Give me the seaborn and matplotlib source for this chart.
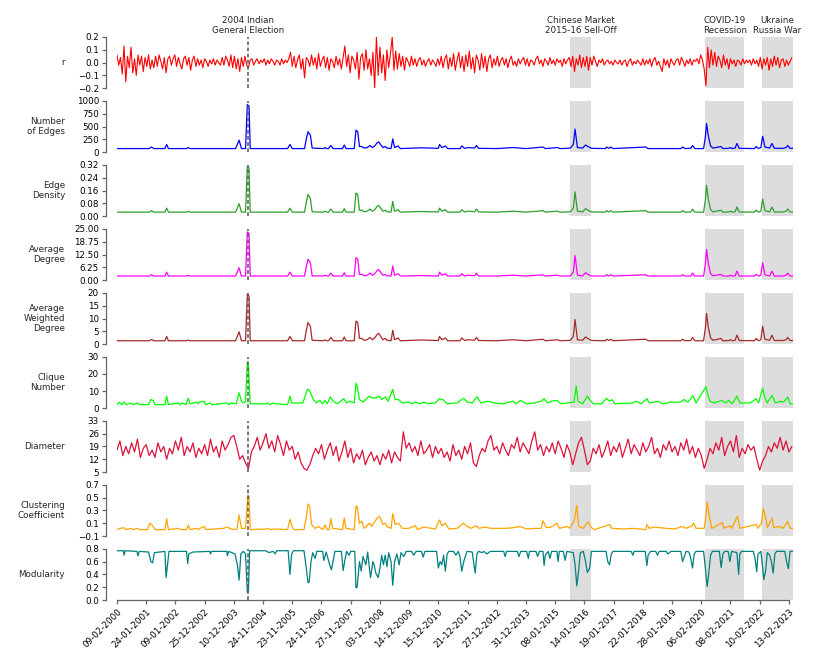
import numpy as np
import pandas as pd
import matplotlib.pyplot as plt
import matplotlib.transforms as mtransforms
import seaborn as sns


# x axis = observation index (one tick every 50 observations)
tick_dates = ['09-02-2000', '24-01-2001', '09-01-2002', '25-12-2002', '10-12-2003',
              '24-11-2004', '23-11-2005', '24-11-2006', '27-11-2007', '03-12-2008',
              '14-12-2009', '15-12-2010', '21-12-2011', '27-12-2012', '31-12-2013',
              '08-01-2015', '14-01-2016', '19-01-2017', '22-01-2018', '28-01-2019',
              '06-02-2020', '08-02-2021', '10-02-2022', '13-02-2023']
tick_pos = np.arange(0, 1151, 50)
n_obs = 1157

# events
election_idx = 224
events = ['Chinese Market\n2015-16 Sell-Off', 'COVID-19\nRecession', 'Ukraine\nRussia War']
event_start = [776, 1007, 1104]
event_end = [812, 1073, 1160]

# r (every 3rd observation)
r_idx = np.arange(0, 1156, 3)
r = [0.06, -0.02, 0.04, -0.09, 0.13, -0.15, 0.05, -0.04, 0.12, -0.08,
     0.03, -0.10, 0.06, -0.02, 0.05, -0.07, 0.04, -0.03, 0.06, -0.05,
     0.02, -0.04, 0.05, -0.03, 0.06, 0.01, -0.05, 0.04, -0.08, 0.03,
     0.05, -0.02, 0.03, 0.06, -0.03, 0.04, -0.01, -0.05, 0.03, 0.05,
     -0.02, 0.04, -0.06, 0.02, 0.05, -0.03, 0.03, -0.02, 0.02, -0.04,
     0.03, 0.01, -0.03, 0.02, -0.01, 0.03, -0.02, 0.02, 0.00, -0.02,
     0.04, -0.02, 0.05, 0.02, -0.03, 0.06, -0.04, 0.05, -0.05, 0.03,
     -0.07, 0.04, -0.03, 0.05, -0.02, -0.04, 0.02, 0.03, -0.02, 0.01,
     0.03, -0.01, 0.02, 0.00, 0.03, -0.02, 0.02, -0.01, 0.03, 0.01,
     -0.02, 0.02, 0.01, -0.02, 0.03, -0.01, 0.02, 0.00, 0.03, 0.08,
     -0.03, 0.05, -0.04, 0.02, 0.06, -0.05, 0.03, -0.12, 0.04, 0.02,
     -0.03, 0.06, -0.02, 0.04, -0.05, 0.07, -0.03, 0.02, 0.05, -0.04,
     0.04, -0.06, 0.03, 0.01, -0.04, 0.05, -0.02, 0.03, -0.05, 0.04,
     0.13, -0.03, 0.06, -0.08, 0.05, 0.02, -0.05, 0.08, -0.13, 0.04,
     0.07, -0.06, 0.10, -0.05, 0.03, -0.10, 0.08, -0.20, 0.20, -0.10,
     0.12, -0.08, 0.06, -0.14, 0.10, -0.04, 0.07, 0.20, -0.06, 0.09,
     -0.05, 0.07, -0.03, 0.05, -0.06, 0.04, 0.01, -0.03, 0.05, -0.02,
     0.03, -0.03, 0.02, 0.04, -0.02, 0.02, -0.03, 0.01, 0.03, -0.02,
     0.02, 0.00, -0.03, 0.03, -0.02, 0.05, -0.04, 0.03, 0.06, -0.05,
     0.04, -0.03, 0.07, -0.06, 0.02, 0.08, -0.04, 0.05, -0.07, 0.06,
     -0.03, 0.09, -0.05, 0.04, -0.08, 0.06, 0.02, -0.06, 0.07, -0.04,
     0.05, -0.07, 0.03, 0.06, -0.04, 0.03, -0.02, 0.05, -0.03, 0.02,
     0.04, -0.02, 0.03, -0.04, 0.02, 0.05, -0.02, 0.01, -0.03, 0.03,
     -0.01, 0.02, 0.04, -0.02, 0.03, -0.03, 0.02, 0.01, -0.02, 0.03,
     0.05, -0.01, 0.02, -0.03, 0.03, 0.01, -0.02, 0.04, -0.01, 0.02,
     -0.02, 0.03, 0.00, 0.02, -0.03, 0.03, -0.01, 0.02, 0.04, -0.03,
     0.05, -0.07, 0.03, -0.02, 0.06, -0.04, 0.04, -0.03, 0.05, -0.06,
     0.04, -0.02, 0.05, 0.01, -0.03, 0.02, 0.00, 0.03, -0.02, 0.01,
     0.02, -0.01, 0.01, -0.02, 0.02, 0.00, -0.01, 0.02, -0.02, 0.01,
     0.02, -0.03, 0.01, 0.03, -0.02, 0.01, -0.01, 0.02, 0.00, -0.02,
     0.03, -0.02, 0.02, -0.01, 0.03, -0.03, 0.02, 0.04, -0.02, 0.01,
     -0.03, -0.07, 0.03, -0.02, 0.02, -0.04, 0.03, 0.00, -0.02, 0.02,
     0.03, -0.02, 0.04, 0.01, -0.03, 0.02, -0.01, 0.03, -0.02, 0.02,
     0.01, 0.03, -0.01, 0.06, 0.02, -0.05, -0.18, 0.12, -0.04, 0.10,
     -0.02, 0.08, -0.03, 0.05, 0.02, -0.04, 0.06, -0.02, 0.03, -0.05,
     0.03, -0.01, 0.02, -0.03, 0.02, 0.01, -0.02, 0.03, -0.01, 0.02,
     0.00, 0.02, -0.02, 0.03, -0.01, 0.02, -0.03, 0.04, -0.05, 0.03,
     -0.02, 0.04, -0.06, 0.03, -0.03, 0.05, -0.02, 0.04, -0.04, 0.02,
     0.03, -0.03, 0.02, -0.02, 0.01, 0.04]

# diameter (every 5th observation)
d_idx = np.arange(0, 1156, 5)
diameter = [17, 22, 14, 19, 15, 21, 16, 23, 13, 18,
            20, 14, 17, 13, 21, 16, 19, 12, 18, 15,
            22, 17, 24, 14, 19, 16, 21, 13, 18, 15,
            20, 14, 23, 16, 19, 13, 22, 17, 20, 24,
            25, 19, 12, 14, 10, 7, 16, 19, 24, 17,
            21, 26, 18, 22, 16, 25, 20, 14, 22, 17,
            19, 12, 16, 10, 7, 6, 9, 14, 18, 15,
            20, 12, 17, 21, 14, 19, 11, 16, 22, 13,
            18, 10, 15, 12, 17, 9, 13, 16, 11, 14,
            9, 15, 12, 17, 10, 16, 13, 11, 27, 18,
            21, 16, 19, 14, 22, 15, 17, 20, 13, 19,
            15, 18, 13, 16, 11, 20, 14, 17, 12, 19,
            15, 21, 10, 8, 14, 18, 16, 22, 25, 17,
            19, 15, 21, 17, 14, 20, 18, 24, 16, 21,
            18, 15, 22, 27, 17, 20, 14, 19, 16, 21,
            15, 22, 18, 13, 20, 16, 9, 15, 21, 24,
            17, 9, 11, 18, 15, 20, 13, 17, 22, 14,
            19, 16, 21, 13, 18, 23, 15, 20, 17, 14,
            21, 16, 19, 24, 15, 18, 13, 20, 17, 22,
            16, 19, 14, 21, 17, 23, 15, 19, 13, 18,
            14, 7, 12, 18, 15, 21, 17, 24, 14, 19,
            22, 16, 25, 13, 18, 15, 20, 17, 19, 12,
            6, 11, 14, 19, 16, 21, 18, 24, 17, 22,
            16, 19]

# edge based measures, read at the turning points
edge_idx = [0, 55, 59, 63, 82, 85, 88, 119, 122, 125,
            203, 209, 213, 220, 223, 226, 228, 292, 296, 300,
            321, 324, 327, 331, 334, 353, 356, 359, 362, 366,
            370, 386, 389, 392, 406, 409, 412, 415, 419, 423,
            428, 433, 437, 441, 445, 448, 451, 455, 459, 462,
            469, 472, 475, 481, 485, 520, 550, 552, 556, 562,
            566, 587, 590, 595, 601, 612, 615, 619, 650, 678,
            700, 729, 733, 754, 758, 770, 776, 781, 784, 788,
            797, 802, 806, 812, 836, 838, 842, 845, 849, 905,
            909, 965, 968, 972, 982, 985, 989, 1004, 1007, 1009,
            1012, 1016, 1020, 1034, 1037, 1047, 1050, 1053, 1058, 1061,
            1065, 1091, 1094, 1098, 1102, 1105, 1109, 1117, 1121, 1125,
            1140, 1145, 1148, 1152, 1157]
edges = [70, 70, 100, 70, 70, 150, 70, 70, 90, 70,
         70, 235, 70, 70, 930, 900, 70, 70, 150, 70,
         70, 260, 400, 330, 80, 70, 90, 70, 70, 130,
         70, 70, 140, 70, 70, 430, 400, 110, 110, 80,
         90, 130, 90, 120, 180, 200, 150, 90, 110, 80,
         70, 260, 90, 120, 70, 85, 75, 150, 90, 120,
         70, 70, 120, 75, 90, 80, 130, 75, 70, 90,
         70, 100, 70, 90, 70, 75, 80, 150, 450, 90,
         80, 140, 110, 75, 70, 100, 75, 100, 70, 100,
         70, 70, 100, 70, 75, 130, 70, 70, 300, 560,
         320, 120, 80, 110, 70, 75, 90, 70, 80, 170,
         75, 70, 110, 70, 90, 310, 100, 80, 170, 75,
         75, 90, 130, 75, 75]
density = [.025, .025, .034, .025, .025, .05, .025, .025, .031, .025,
           .025, .078, .025, .025, .31, .30, .025, .025, .05, .025,
           .025, .087, .135, .11, .027, .025, .031, .025, .025, .044,
           .025, .025, .047, .025, .025, .145, .135, .037, .037, .027,
           .031, .044, .031, .04, .06, .068, .05, .031, .037, .027,
           .025, .092, .031, .04, .025, .029, .026, .05, .031, .04,
           .025, .025, .04, .026, .031, .027, .044, .026, .025, .031,
           .025, .034, .025, .031, .025, .026, .027, .05, .152, .031,
           .027, .047, .037, .026, .025, .034, .026, .034, .025, .034,
           .025, .025, .034, .025, .026, .044, .025, .025, .10, .193,
           .107, .04, .027, .037, .025, .026, .031, .025, .027, .057,
           .026, .025, .037, .025, .031, .107, .034, .027, .057, .026,
           .026, .031, .044, .026, .026]
avg_degree = [2.0, 2.0, 2.6, 2.0, 2.0, 3.9, 2.0, 2.0, 2.4, 2.0,
              2.0, 6.0, 2.0, 2.0, 23.5, 22.8, 2.0, 2.0, 3.9, 2.0,
              2.0, 6.6, 10.2, 8.4, 2.1, 2.0, 2.4, 2.0, 2.0, 3.4,
              2.0, 2.0, 3.6, 2.0, 2.0, 11.0, 10.2, 2.8, 2.8, 2.1,
              2.4, 3.4, 2.4, 3.1, 4.6, 5.2, 3.9, 2.4, 2.8, 2.1,
              2.0, 6.9, 2.4, 3.1, 2.0, 2.2, 2.0, 3.9, 2.4, 3.1,
              2.0, 2.0, 3.1, 2.0, 2.4, 2.1, 3.4, 2.0, 2.0, 2.4,
              2.0, 2.6, 2.0, 2.4, 2.0, 2.0, 2.1, 3.9, 12.0, 2.4,
              2.1, 3.6, 2.8, 2.0, 2.0, 2.6, 2.0, 2.6, 2.0, 2.6,
              2.0, 2.0, 2.6, 2.0, 2.0, 3.4, 2.0, 2.0, 7.8, 15.0,
              8.2, 3.1, 2.1, 2.8, 2.0, 2.0, 2.4, 2.0, 2.1, 4.4,
              2.0, 2.0, 2.8, 2.0, 2.4, 8.5, 2.6, 2.1, 4.4, 2.0,
              2.0, 2.4, 3.4, 2.0, 2.0]
avg_wdegree = [1.3, 1.3, 1.8, 1.3, 1.3, 3.0, 1.3, 1.3, 1.6, 1.3,
               1.3, 4.8, 1.3, 1.3, 19.5, 18.8, 1.3, 1.3, 3.0, 1.3,
               1.3, 5.4, 8.4, 6.9, 1.5, 1.3, 1.6, 1.3, 1.3, 2.6,
               1.3, 1.3, 2.8, 1.3, 1.3, 9.0, 8.4, 2.2, 2.2, 1.5,
               1.7, 2.6, 1.7, 2.4, 3.7, 4.2, 3.1, 1.7, 2.2, 1.5,
               1.3, 5.4, 1.7, 2.4, 1.3, 1.6, 1.4, 3.0, 1.7, 2.4,
               1.3, 1.3, 2.4, 1.4, 1.7, 1.5, 2.6, 1.4, 1.3, 1.7,
               1.3, 1.9, 1.3, 1.7, 1.3, 1.4, 1.5, 3.0, 9.6, 1.7,
               1.5, 2.8, 2.2, 1.4, 1.3, 1.9, 1.4, 1.9, 1.3, 1.9,
               1.3, 1.3, 1.9, 1.3, 1.4, 2.6, 1.3, 1.3, 6.2, 12.0,
               6.6, 2.4, 1.5, 2.2, 1.3, 1.4, 1.7, 1.3, 1.5, 3.5,
               1.4, 1.3, 2.2, 1.3, 1.7, 7.0, 1.9, 1.5, 3.5, 1.4,
               1.4, 1.7, 2.6, 1.4, 1.4]

# (observation, value) turning points
clique_pts = [(0, 2), (4, 3.4), (8, 2), (12, 3.5), (16, 2), (23, 3), (27, 2), (35, 3), (39, 2), (54, 2),
              (58, 5), (62, 4.5), (65, 2), (82, 2), (85, 7), (88, 2), (105, 3), (108, 2), (111, 3), (118, 2),
              (122, 5.8), (125, 2.5), (136, 3.5), (139, 2.5), (141, 3.5), (149, 4), (152, 2), (159, 3), (162, 2), (188, 3),
              (191, 2), (196, 3), (204, 2.5), (209, 9), (213, 4), (217, 3), (220, 4), (223, 27), (225, 24), (228, 2.5),
              (255, 2.5), (258, 3), (262, 2), (267, 3), (271, 2.5), (292, 2), (296, 7), (299, 3), (318, 3), (326, 11),
              (329, 10.5), (336, 5), (341, 3), (347, 4.5), (352, 2.5), (356, 4.5), (360, 2.5), (365, 6.5), (370, 4), (377, 2.5),
              (388, 5.5), (393, 3), (398, 4), (406, 3), (409, 14.5), (411, 13), (415, 5), (421, 3.5), (432, 7), (436, 6),
              (444, 6), (449, 7), (453, 5), (459, 6.5), (464, 4), (472, 11), (476, 5), (482, 5), (488, 3), (499, 3.5),
              (505, 2.5), (511, 3.5), (518, 2.5), (525, 3.5), (533, 2.5), (545, 3), (552, 5.5), (559, 4.7), (565, 2.5), (582, 3),
              (593, 5.7), (600, 3.5), (608, 3), (616, 6.7), (623, 3), (635, 4), (646, 3), (660, 2.5), (678, 4), (683, 2.5),
              (691, 4.5), (701, 2.5), (715, 3), (726, 4), (731, 5.5), (737, 3), (743, 4), (753, 4.5), (760, 2.5), (771, 3),
              (782, 3.5), (786, 13), (789, 4), (797, 2.5), (805, 7), (809, 5), (815, 2.5), (829, 2.5), (838, 5.7), (843, 4),
              (847, 5), (852, 2.5), (883, 3), (888, 4), (897, 2.5), (907, 5.5), (911, 3), (926, 4), (934, 2.5), (948, 3.5),
              (964, 3.5), (970, 5), (977, 3.5), (986, 7.3), (991, 3), (1008, 12.5), (1011, 8), (1015, 4), (1022, 3), (1035, 4.5),
              (1042, 3), (1047, 4.5), (1053, 2.5), (1061, 7), (1066, 3), (1084, 3), (1094, 5.5), (1098, 3), (1105, 11.6), (1109, 6),
              (1113, 3), (1121, 7.5), (1127, 3), (1135, 4), (1141, 3.5), (1148, 6.5), (1152, 2.5), (1157, 2.5)]

clustering_pts = [(0, 0.0), (5, 0.02), (12, 0.03), (16, 0.0), (23, 0.02), (27, 0.0), (35, 0.02), (39, 0.0), (52, 0.0), (56, 0.1),
                  (61, 0.06), (65, 0.0), (82, 0.0), (85, 0.17), (88, 0.0), (105, 0.02), (109, 0.0), (119, 0.0), (122, 0.07), (125, 0.0),
                  (136, 0.02), (139, 0.0), (142, 0.02), (149, 0.05), (152, 0.0), (182, 0.02), (189, 0.04), (195, 0.01), (205, 0.0), (209, 0.23),
                  (213, 0.02), (220, 0.02), (224, 0.53), (226, 0.52), (228, 0.0), (255, 0.01), (258, 0.02), (262, 0.0), (270, 0.01), (292, 0.0),
                  (296, 0.16), (300, 0.04), (303, 0.0), (320, 0.0), (324, 0.2), (327, 0.4), (330, 0.35), (333, 0.08), (339, 0.02), (345, 0.05),
                  (352, 0.0), (356, 0.07), (360, 0.0), (363, 0.0), (366, 0.17), (369, 0.02), (386, 0.0), (389, 0.18), (392, 0.02), (406, 0.0),
                  (409, 0.37), (411, 0.36), (415, 0.1), (419, 0.13), (423, 0.02), (432, 0.1), (436, 0.05), (443, 0.15), (447, 0.2), (450, 0.2),
                  (455, 0.08), (459, 0.1), (463, 0.04), (469, 0.02), (472, 0.25), (476, 0.08), (482, 0.1), (488, 0.02), (499, 0.02), (511, 0.06),
                  (514, 0.0), (525, 0.04), (545, 0.01), (552, 0.15), (556, 0.06), (562, 0.1), (568, 0.01), (582, 0.02), (593, 0.1), (599, 0.05),
                  (606, 0.02), (614, 0.06), (620, 0.02), (629, 0.04), (641, 0.02), (664, 0.02), (678, 0.03), (690, 0.05), (701, 0.01), (715, 0.02),
                  (726, 0.02), (729, 0.14), (735, 0.03), (743, 0.04), (753, 0.1), (757, 0.02), (771, 0.05), (775, 0.02), (783, 0.15), (787, 0.38),
                  (790, 0.05), (798, 0.02), (804, 0.1), (807, 0.12), (812, 0.03), (817, 0.0), (837, 0.06), (843, 0.08), (847, 0.02), (868, 0.01),
                  (882, 0.02), (905, 0.0), (907, 0.08), (911, 0.02), (920, 0.04), (940, 0.02), (954, 0.01), (968, 0.05), (974, 0.02), (984, 0.06),
                  (987, 0.1), (991, 0.02), (1005, 0.02), (1007, 0.15), (1010, 0.43), (1014, 0.2), (1018, 0.02), (1036, 0.11), (1039, 0.02), (1049, 0.06),
                  (1052, 0.02), (1062, 0.21), (1066, 0.02), (1094, 0.08), (1097, 0.02), (1103, 0.1), (1106, 0.33), (1110, 0.2), (1113, 0.03), (1121, 0.18),
                  (1124, 0.03), (1134, 0.05), (1140, 0.02), (1148, 0.13), (1152, 0.02), (1157, 0.02)]

modularity_pts = [(0, 0.77), (11, 0.77), (12, 0.7), (14, 0.77), (34, 0.76), (36, 0.69), (38, 0.76), (54, 0.75), (58, 0.6), (61, 0.58),
                  (64, 0.74), (82, 0.76), (84, 0.35), (87, 0.6), (89, 0.76), (119, 0.76), (121, 0.57), (123, 0.72), (130, 0.75), (159, 0.76),
                  (160, 0.72), (162, 0.76), (188, 0.76), (189, 0.69), (191, 0.76), (202, 0.72), (206, 0.55), (209, 0.31), (212, 0.72), (216, 0.76),
                  (220, 0.72), (223, 0.12), (225, 0.15), (227, 0.77), (255, 0.77), (260, 0.74), (267, 0.76), (271, 0.72), (273, 0.77), (293, 0.77),
                  (296, 0.4), (299, 0.72), (302, 0.77), (320, 0.77), (324, 0.5), (327, 0.27), (329, 0.28), (332, 0.6), (335, 0.74), (339, 0.65),
                  (342, 0.76), (352, 0.76), (354, 0.62), (358, 0.75), (364, 0.55), (367, 0.47), (370, 0.62), (373, 0.76), (384, 0.76), (387, 0.46),
                  (390, 0.62), (393, 0.76), (397, 0.7), (400, 0.76), (407, 0.76), (409, 0.19), (411, 0.2), (415, 0.6), (418, 0.45), (421, 0.68),
                  (426, 0.55), (429, 0.75), (432, 0.5), (434, 0.35), (438, 0.6), (440, 0.55), (443, 0.42), (447, 0.35), (450, 0.5), (453, 0.7),
                  (456, 0.55), (459, 0.7), (462, 0.52), (465, 0.74), (469, 0.6), (472, 0.23), (475, 0.6), (479, 0.72), (483, 0.55), (486, 0.74),
                  (491, 0.68), (495, 0.76), (504, 0.76), (508, 0.7), (512, 0.76), (521, 0.76), (524, 0.67), (527, 0.76), (547, 0.76), (550, 0.5),
                  (553, 0.6), (556, 0.55), (559, 0.7), (562, 0.45), (565, 0.72), (568, 0.76), (576, 0.76), (580, 0.7), (584, 0.76), (587, 0.68),
                  (590, 0.45), (594, 0.62), (599, 0.76), (608, 0.75), (610, 0.62), (613, 0.42), (616, 0.72), (619, 0.76), (625, 0.74), (628, 0.76),
                  (633, 0.72), (639, 0.76), (662, 0.76), (664, 0.68), (667, 0.76), (685, 0.76), (688, 0.68), (691, 0.76), (701, 0.76), (704, 0.65),
                  (706, 0.76), (717, 0.76), (720, 0.68), (723, 0.76), (729, 0.76), (731, 0.54), (733, 0.7), (738, 0.76), (741, 0.65), (744, 0.76),
                  (753, 0.76), (755, 0.6), (757, 0.76), (764, 0.76), (767, 0.62), (770, 0.76), (781, 0.74), (784, 0.55), (787, 0.22), (790, 0.45),
                  (793, 0.74), (798, 0.76), (802, 0.6), (805, 0.43), (809, 0.5), (812, 0.76), (837, 0.76), (840, 0.6), (843, 0.55), (846, 0.72),
                  (849, 0.76), (880, 0.76), (883, 0.7), (885, 0.76), (904, 0.76), (907, 0.54), (909, 0.7), (913, 0.76), (922, 0.76), (925, 0.7),
                  (928, 0.76), (940, 0.76), (943, 0.72), (948, 0.76), (965, 0.76), (968, 0.6), (971, 0.68), (974, 0.76), (979, 0.75), (982, 0.65),
                  (985, 0.5), (988, 0.72), (991, 0.76), (1004, 0.76), (1007, 0.5), (1010, 0.21), (1012, 0.35), (1016, 0.7), (1019, 0.76), (1031, 0.76),
                  (1034, 0.51), (1037, 0.72), (1040, 0.76), (1046, 0.76), (1049, 0.6), (1052, 0.76), (1061, 0.74), (1064, 0.4), (1066, 0.72), (1069, 0.76),
                  (1089, 0.76), (1092, 0.65), (1095, 0.44), (1097, 0.72), (1102, 0.76), (1104, 0.6), (1107, 0.32), (1110, 0.45), (1113, 0.74), (1117, 0.7),
                  (1120, 0.6), (1123, 0.42), (1126, 0.72), (1129, 0.76), (1143, 0.76), (1146, 0.6), (1149, 0.49), (1152, 0.76), (1157, 0.76)]

clique_idx, clique = zip(*clique_pts)
clust_idx, clustering = zip(*clustering_pts)
mod_idx, modularity = zip(*modularity_pts)

panels = [
    ('r', r_idx, r, 'red', [-0.2, -0.1, 0.0, 0.1, 0.2], '{:.1f}'),
    ('Number\nof Edges', edge_idx, edges, 'blue', [0, 250, 500, 750, 1000], '{:.0f}'),
    ('Edge\nDensity', edge_idx, density, 'tab:green', [0, 0.08, 0.16, 0.24, 0.32], '{:.2f}'),
    ('Average\nDegree', edge_idx, avg_degree, 'magenta', [0, 6.25, 12.5, 18.75, 25], '{:.2f}'),
    ('Average\nWeighted\nDegree', edge_idx, avg_wdegree, 'brown', [0, 5, 10, 15, 20], '{:.0f}'),
    ('Clique\nNumber', clique_idx, clique, 'lime', [0, 10, 20, 30], '{:.0f}'),
    ('Diameter', d_idx, diameter, 'crimson', [5, 12, 19, 26, 33], '{:.0f}'),
    ('Clustering\nCoefficient', clust_idx, clustering, 'orange', [-0.1, 0.1, 0.3, 0.5, 0.7], '{:.1f}'),
    ('Modularity', mod_idx, modularity, 'teal', [0.0, 0.2, 0.4, 0.6, 0.8], '{:.1f}'),
]

sns.set_style('ticks')
plt.rcParams['font.family'] = ['DejaVu Sans']
fs = 6.3

fig, axes = plt.subplots(9, 1, figsize=(8.31, 6.70), dpi=100, sharex=True)
fig.subplots_adjust(left=117/831, right=793/831, top=1-37/670, bottom=1-600/670, hspace=0.25)

for ax, (label, x, y, color, ticks, fmt) in zip(axes, panels):
    for a, b in zip(event_start, event_end):
        ax.axvspan(a, b, color='#dddddd', lw=0, zorder=0)
    lw = 0.8 if label == 'r' else 0.9
    sns.lineplot(x=list(x), y=list(y), ax=ax, color=color, linewidth=lw, zorder=2)
    ax.axvline(election_idx, color='#555555', ls=(0, (2.5, 1.5)), lw=1.1, zorder=3)

    ax.set_xlim(0, n_obs)
    ax.set_ylim(ticks[0], ticks[-1])
    ax.set_yticks(ticks)
    ax.set_yticklabels([fmt.format(t).replace('-', '\u2212') for t in ticks])
    ax.set_ylabel(label, rotation=0, ha='right', va='center', fontsize=fs, multialignment='right')
    ax.yaxis.set_label_coords(-0.077, 0.5)
    ax.set_xlabel('')

    for s in ['top', 'right']:
        ax.spines[s].set_visible(False)
    ax.spines['left'].set_position(('outward', 8))
    ax.spines['left'].set_color('#666666')
    ax.spines['left'].set_linewidth(0.9)
    ax.tick_params(axis='y', length=3, width=0.9, color='#666666', pad=2,
                   labelsize=fs, labelcolor='black')
    ax.spines['bottom'].set_visible(False)
    ax.tick_params(axis='x', bottom=False, labelbottom=False)

# bottom axis with dates
ax = axes[-1]
ax.spines['bottom'].set_visible(True)
ax.spines['bottom'].set_color('#666666')
ax.spines['bottom'].set_linewidth(0.9)
ax.spines['bottom'].set_bounds(0, 1150)
ax.set_xticks(tick_pos)
ax.set_xticklabels(tick_dates, rotation=45, ha='right', rotation_mode='anchor')
ax.tick_params(axis='x', bottom=True, labelbottom=True, length=3, width=0.9, color='#666666', pad=2,
               labelsize=fs, labelcolor='black')

# event titles
top = axes[0]
trans = mtransforms.blended_transform_factory(top.transData, top.transAxes)
top.text(election_idx, 1.03, '2004 Indian\nGeneral Election', transform=trans,
         ha='center', va='bottom', fontsize=fs)
for name, a, b in zip(events, event_start, event_end):
    top.text((a + min(b, n_obs)) / 2, 1.03, name, transform=trans,
             ha='center', va='bottom', fontsize=fs)

plt.savefig('out.png', dpi=100)
